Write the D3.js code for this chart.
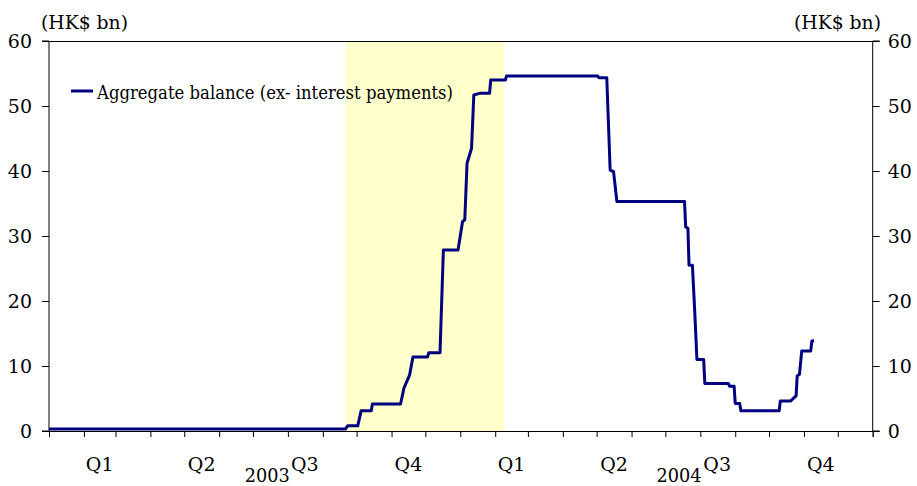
<!DOCTYPE html>
<html>
<head>
<meta charset="utf-8">
<script src="https://cdn.jsdelivr.net/npm/d3@7/dist/d3.min.js"></script>
<style>
  html, body { margin: 0; padding: 0; background: #fff; }
  svg text { fill: #000; }
</style>
</head>
<body>
<svg id="chart" width="917" height="486"></svg>
<script>
// ---- Data ----
const seriesName = "Aggregate balance (ex- interest payments)";
const dates = [
  "2003-01-01","2003-09-21","2003-09-23","2003-10-02","2003-10-05","2003-10-14","2003-10-15",
  "2003-11-09","2003-11-12","2003-11-17","2003-11-20","2003-12-03","2003-12-04","2003-12-14",
  "2003-12-17","2003-12-30","2004-01-03","2004-01-05","2004-01-07","2004-01-11","2004-01-13",
  "2004-01-18","2004-01-27","2004-01-28","2004-02-10","2004-02-11","2004-05-02","2004-05-03",
  "2004-05-10","2004-05-13","2004-05-16","2004-05-19","2004-07-18","2004-07-19","2004-07-21",
  "2004-07-22","2004-07-25","2004-07-27","2004-07-29","2004-08-04","2004-08-05","2004-08-26",
  "2004-08-27","2004-08-31","2004-09-01","2004-09-05","2004-09-06","2004-10-10","2004-10-11",
  "2004-10-20","2004-10-25","2004-10-26","2004-10-28","2004-10-30","2004-11-07","2004-11-08",
  "2004-11-10"
];
const values = [
  0.3, 0.3, 0.8, 0.8, 3.1, 3.1, 4.15,
  4.15, 6.6, 8.6, 11.4, 11.4, 12.05, 12.05,
  27.85, 27.85, 32.2, 32.5, 41.2, 43.5, 51.7,
  51.95, 51.95, 54.0, 54.0, 54.6, 54.6, 54.35,
  54.35, 40.15, 39.9, 35.3, 35.3, 31.4, 31.2,
  25.5, 25.5, 18.6, 11.0, 11.0, 7.3, 7.3,
  6.9, 6.9, 4.25, 4.25, 3.1, 3.1, 4.6,
  4.6, 5.4, 8.5, 8.7, 12.3, 12.3, 13.85,
  13.9
];
const shadeStart = "2003-09-21";
const shadeEnd = "2004-02-09";
const yTicks = [0, 10, 20, 30, 40, 50, 60];
const quarterLabels = ["Q1", "Q2", "Q3", "Q4"];
const years = ["2003", "2004"];
const unitLabel = "(HK$ bn)";

// ---- Layout ----
const W = 917, H = 486;
const pL = 49, pR = 872.7, pT = 41, pB = 431;
const parse = d3.timeParse("%Y-%m-%d");
const data = dates.map((d, i) => ({ date: parse(d), value: values[i] }));
const FONT = "DejaVu Serif, Liberation Serif, serif";

const x = d3.scaleTime()
  .domain([new Date(2003, 0, 1), new Date(2005, 0, 1)])
  .range([pL, pR]);
const y = d3.scaleLinear().domain([0, 60]).range([pB, pT]);

const svg = d3.select("#chart");

// Shaded period
svg.append("rect")
  .attr("x", x(parse(shadeStart)))
  .attr("y", pT)
  .attr("width", x(parse(shadeEnd)) - x(parse(shadeStart)))
  .attr("height", pB - pT)
  .attr("fill", "#ffffcc");

// Top border
svg.append("line")
  .attr("x1", pL).attr("x2", pR)
  .attr("y1", pT + 0.5).attr("y2", pT + 0.5)
  .attr("stroke", "#000").attr("stroke-width", 1);

// Left axis
const yAxisL = d3.axisLeft(y).tickValues(yTicks).tickSize(7).tickPadding(10).tickFormat(d3.format("d"));
const gL = svg.append("g").attr("transform", `translate(${pL},0)`).call(yAxisL);
// Right axis
const yAxisR = d3.axisRight(y).tickValues(yTicks).tickSize(7).tickPadding(8).tickFormat(d3.format("d"));
const gR = svg.append("g").attr("transform", `translate(${pR},0)`).call(yAxisR);

// Bottom axis with monthly ticks
const xAxis = d3.axisBottom(x)
  .ticks(d3.timeMonth.every(1))
  .tickSize(6)
  .tickFormat("");
const gX = svg.append("g").attr("transform", `translate(0,${pB})`).call(xAxis);

[gL, gR, gX].forEach(g => {
  g.attr("font-family", FONT).attr("font-size", 19);
  g.select(".domain").attr("stroke", "#000").attr("stroke-width", 1);
  g.selectAll(".tick line").attr("stroke", "#000");
  g.selectAll(".tick text").attr("fill", "#000");
});
gL.select(".domain").attr("d", `M-7,${pB}H0V${pT}H-7`);
gR.select(".domain").attr("d", `M7,${pB}H0V${pT}H7`);

// Quarter labels
const qStarts = [];
[2003, 2004].forEach(yr => {
  for (let q = 0; q < 4; q++) qStarts.push({ yr, q });
});
svg.selectAll(".qlabel")
  .data(qStarts)
  .enter().append("text")
  .attr("class", "qlabel")
  .attr("x", d => (x(new Date(d.yr, d.q * 3, 1)) + x(new Date(d.yr, d.q * 3 + 3, 1))) / 2)
  .attr("y", 471)
  .attr("text-anchor", "middle")
  .attr("font-family", FONT)
  .attr("font-size", 19)
  .text(d => quarterLabels[d.q]);

// Year labels
svg.selectAll(".ylabel")
  .data(years)
  .enter().append("text")
  .attr("class", "ylabel")
  .attr("x", d => (x(new Date(+d, 0, 1)) + x(new Date(+d + 1, 0, 1))) / 2 + 12.5)
  .attr("y", 482)
  .attr("text-anchor", "middle")
  .attr("font-family", FONT)
  .attr("font-size", 19)
  .attr("textLength", 45)
  .attr("lengthAdjust", "spacingAndGlyphs")
  .text(d => d);

// Unit labels
svg.append("text").attr("x", 41).attr("y", 29).attr("font-family", FONT).attr("font-size", 19)
  .attr("textLength", 87).attr("lengthAdjust", "spacingAndGlyphs").text(unitLabel);
svg.append("text").attr("x", 794).attr("y", 29).attr("font-family", FONT).attr("font-size", 19)
  .attr("textLength", 87).attr("lengthAdjust", "spacingAndGlyphs").text(unitLabel);

// Line
const line = d3.line().x(d => x(d.date)).y(d => y(d.value));
svg.append("path")
  .datum(data)
  .attr("d", line)
  .attr("fill", "none")
  .attr("stroke", "#000080")
  .attr("stroke-width", 3)
  .attr("stroke-linejoin", "round");

// Legend
svg.append("line")
  .attr("x1", 71).attr("x2", 93)
  .attr("y1", 91).attr("y2", 91)
  .attr("stroke", "#000080").attr("stroke-width", 3);
svg.append("text").attr("x", 97).attr("y", 99).attr("font-family", FONT).attr("font-size", 19)
  .attr("textLength", 356).attr("lengthAdjust", "spacingAndGlyphs").text(seriesName);
</script>
</body>
</html>
